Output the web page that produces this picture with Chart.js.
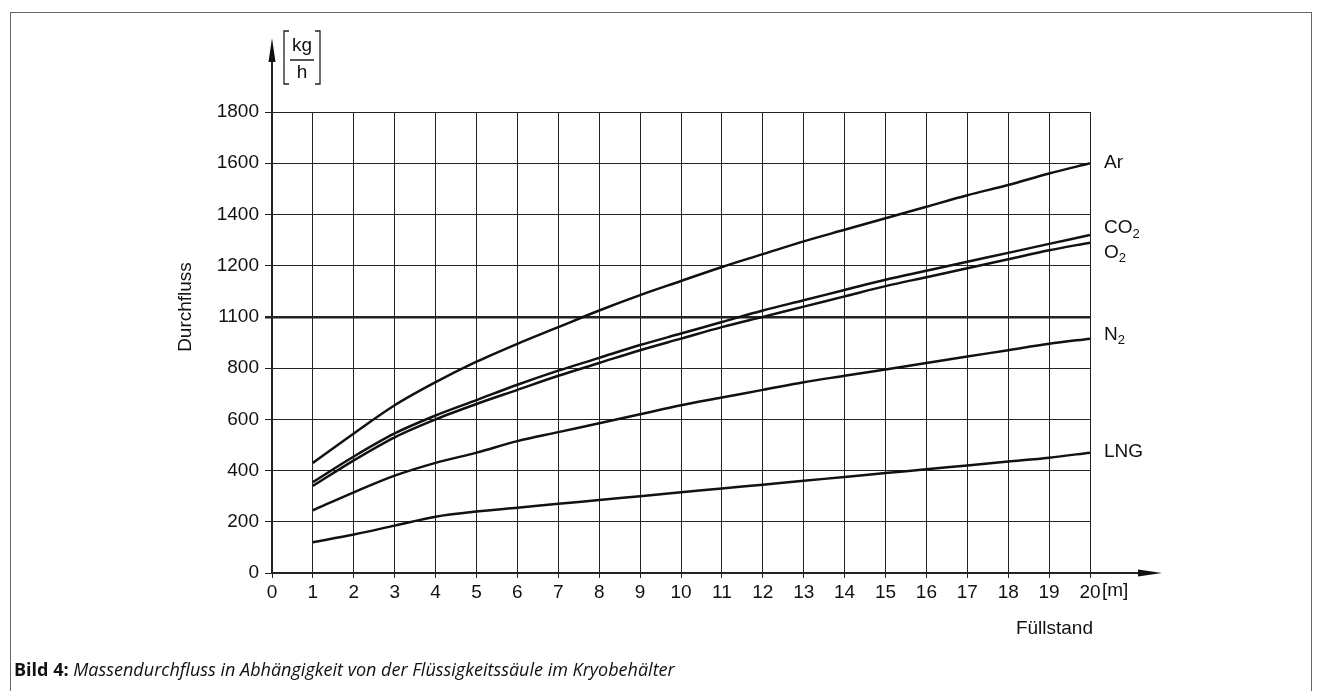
<!DOCTYPE html>
<html>
<head>
<meta charset="utf-8">
<script src="https://cdn.jsdelivr.net/npm/chart.js@4.4.0/dist/chart.umd.min.js"></script>
<style>
  html, body { margin: 0; padding: 0; background: #fff; }
  #wrap { position: relative; width: 1322px; height: 691px; overflow: hidden; }
  #frame { position: absolute; left: 10px; top: 12px; width: 1302px; height: 700px;
           border: 1px solid #666; box-sizing: border-box; }
  canvas { position: absolute; left: 0; top: 0; }
  #caption { position: absolute; left: 14px; top: 657px; font-family: "Open Sans", sans-serif;
             font-size: 18px; color: #111; }
</style>
</head>
<body>
<div id="wrap">
  <div id="frame"></div>
  <canvas id="flowChart" width="1322" height="691"></canvas>
  <div id="caption"><b>Bild 4:</b> <i>Massendurchfluss in Abhängigkeit von der Flüssigkeitssäule im Kryobehälter</i></div>
</div>
<script>
// data (x = Füllstand in m, y = Durchfluss in kg/h)
const fillLevels = [1,2,3,4,5,6,7,8,9,10,11,12,13,14,15,16,17,18,19,20];
const flowAr  = [430,545,655,745,825,895,960,1025,1085,1140,1195,1245,1295,1340,1385,1430,1475,1515,1560,1600];
const flowCO2 = [355,455,545,615,675,735,790,840,890,935,980,1025,1065,1105,1145,1180,1215,1250,1285,1320];
const flowO2  = [340,440,530,600,660,715,770,820,870,915,960,1000,1040,1080,1120,1155,1190,1225,1260,1290];
const flowN2  = [245,315,380,430,470,515,550,585,620,655,685,715,745,770,795,820,845,870,895,915];
const flowLNG = [120,150,185,220,240,255,270,285,300,315,330,345,360,375,390,405,420,435,450,470];
const seriesNames = ['Ar', 'CO2', 'O2', 'N2', 'LNG'];
const yTickValues = [0,200,400,600,800,1000,1200,1400,1600,1800];
const yTickLabels = ['0','200','400','600','800','1100','1200','1400','1600','1800'];

const FONT = '"Liberation Sans", sans-serif';
const series = [flowAr, flowCO2, flowO2, flowN2, flowLNG];

function pts(arr) { return arr.map((v, i) => ({x: fillLevels[i], y: v})); }

// name label with optional subscript digit
function drawName(ctx, name, x, y) {
  const m = name.match(/^([A-Za-z]+)(\d?)$/);
  ctx.font = '19px ' + FONT;
  ctx.textBaseline = 'middle';
  ctx.textAlign = 'left';
  ctx.fillText(m[1], x, y);
  if (m[2]) {
    const w = ctx.measureText(m[1]).width;
    ctx.font = '13px ' + FONT;
    ctx.fillText(m[2], x + w, y + 6);
  }
}

const extras = {
  id: 'extras',
  afterDraw(chart) {
    const ctx = chart.ctx;
    const xs = chart.scales.x, ys = chart.scales.y;
    const x0 = xs.getPixelForValue(0), y0 = ys.getPixelForValue(0);
    ctx.save();
    ctx.strokeStyle = '#222';
    ctx.fillStyle = '#111';
    ctx.lineWidth = 2;
    // y axis arrow
    ctx.beginPath(); ctx.moveTo(x0, y0); ctx.lineTo(x0, 50); ctx.stroke();
    ctx.beginPath(); ctx.moveTo(x0, 38); ctx.lineTo(x0 - 3.5, 62); ctx.lineTo(x0 + 3.5, 62); ctx.closePath(); ctx.fill();
    // x axis arrow
    ctx.beginPath(); ctx.moveTo(x0, y0); ctx.lineTo(1150, y0); ctx.stroke();
    ctx.beginPath(); ctx.moveTo(1162, y0); ctx.lineTo(1138, y0 - 3.5); ctx.lineTo(1138, y0 + 3.5); ctx.closePath(); ctx.fill();

    // unit [kg/h]
    ctx.lineWidth = 1.3;
    ctx.beginPath();
    ctx.moveTo(289, 31); ctx.lineTo(284, 31); ctx.lineTo(284, 84); ctx.lineTo(289, 84);
    ctx.moveTo(315, 31); ctx.lineTo(320, 31); ctx.lineTo(320, 84); ctx.lineTo(315, 84);
    ctx.moveTo(290, 60); ctx.lineTo(314, 60);
    ctx.stroke();
    ctx.font = '19px ' + FONT;
    ctx.textAlign = 'center'; ctx.textBaseline = 'middle';
    ctx.fillText('kg', 302, 46);
    ctx.fillText('h', 302, 73);

    // [m] and Füllstand
    ctx.textAlign = 'left';
    ctx.fillText('[m]', 1102, 591);
    ctx.textAlign = 'right';
    ctx.fillText('Füllstand', 1093, 629);

    // Durchfluss (y axis title)
    ctx.save();
    ctx.translate(186, 307);
    ctx.rotate(-Math.PI / 2);
    ctx.textAlign = 'center';
    ctx.fillText('Durchfluss', 0, 0);
    ctx.restore();

    // series names at right end
    const offsets = {Ar: 0, CO2: -7, O2: 10, N2: -4, LNG: -1};
    series.forEach((arr, i) => {
      const yv = ys.getPixelForValue(arr[arr.length - 1]);
      drawName(ctx, seriesNames[i], 1104, yv + offsets[seriesNames[i]]);
    });
    ctx.restore();
  }
};

new Chart(document.getElementById('flowChart'), {
  type: 'scatter',
  data: {
    datasets: series.map((arr, i) => ({
      label: seriesNames[i],
      data: pts(arr),
      showLine: true,
      borderColor: '#111',
      borderWidth: 2.5,
      pointRadius: 0,
      tension: 0.4,
      cubicInterpolationMode: 'monotone'
    }))
  },
  options: {
    responsive: false,
    animation: false,
    layout: { padding: { left: 0, top: 112, right: 232, bottom: 0 } },
    plugins: { legend: { display: false }, tooltip: { enabled: false } },
    scales: {
      x: {
        type: 'linear', min: 0, max: 20,
        afterFit: s => { s.height = 118; },
        border: { display: true, color: '#333', width: 2 },
        grid: { color: '#222', lineWidth: 1, tickLength: 5 },
        ticks: { stepSize: 1, color: '#111', padding: 3, font: { family: FONT, size: 19 } }
      },
      y: {
        min: 0, max: 1800,
        afterFit: s => { s.width = 272; },
        afterBuildTicks: s => { s.ticks = yTickValues.map(v => ({value: v})); },
        border: { display: true, color: '#333', width: 2 },
        grid: {
          color: '#222', tickLength: 7,
          lineWidth: c => (c.tick && c.tick.value === 1000 ? 2.5 : 1)
        },
        ticks: {
          color: '#111', padding: 6, font: { family: FONT, size: 19 },
          callback: (v) => { const k = yTickValues.indexOf(v); return k >= 0 ? yTickLabels[k] : ''; }
        }
      }
    }
  },
  plugins: [extras]
});
</script>
</body>
</html>
